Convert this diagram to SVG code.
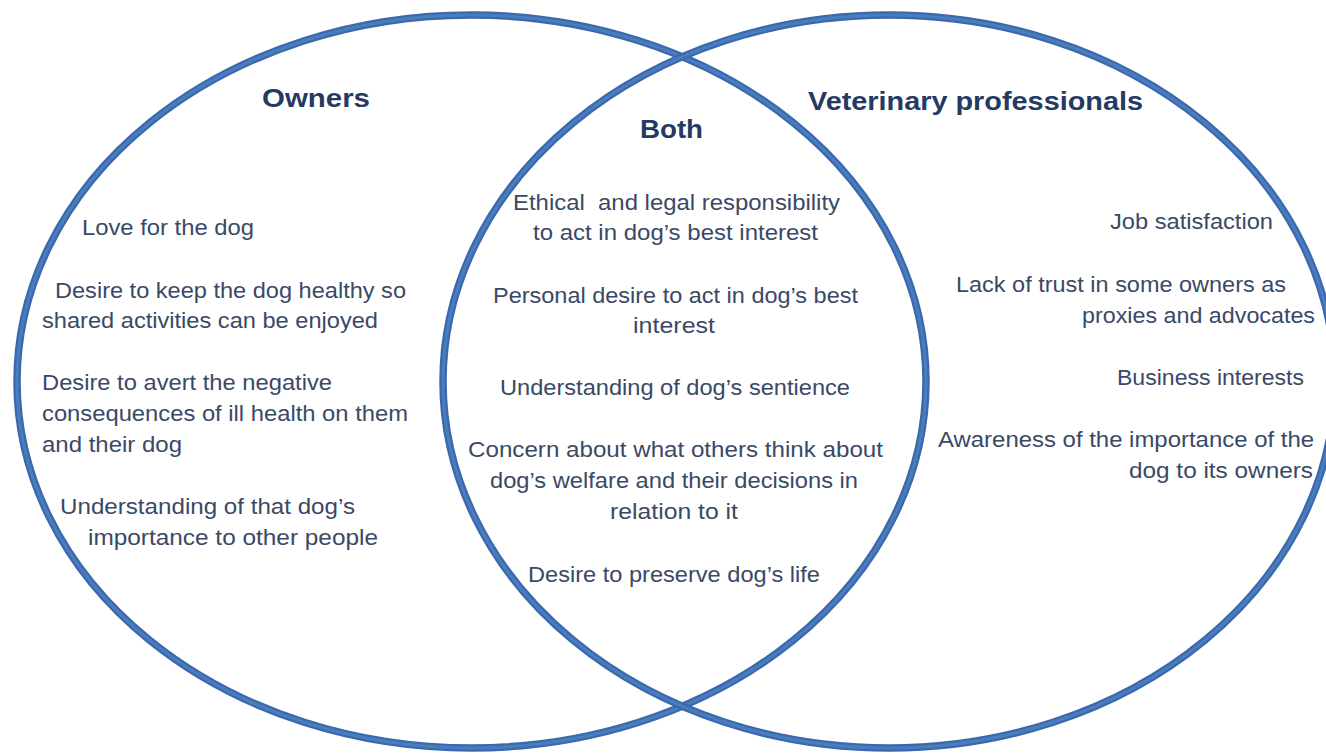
<svg xmlns="http://www.w3.org/2000/svg" width="1326" height="753" viewBox="0 0 1326 753">
<style>
.ring{fill:none;stroke:#3b69ab;stroke-width:7.5}
.ringhi{fill:none;stroke:#4a7cc0;stroke-width:3}
.hd{font-family:"Liberation Sans",Arial,sans-serif;font-weight:bold;font-size:25px;fill:#243a63}
.tx{font-family:"Liberation Sans",Arial,sans-serif;font-size:22px;fill:#3a4966}
.c{text-anchor:middle}
.e{text-anchor:end}
</style>
<rect width="1326" height="753" fill="#ffffff"/>
<g id="owners">
<ellipse class="ring" cx="471.5" cy="381.5" rx="454.5" ry="366.5"/>
<ellipse class="ringhi" cx="471.5" cy="381.5" rx="454.5" ry="366.5"/>
<text class="hd" x="262" y="107" textLength="108" lengthAdjust="spacingAndGlyphs">Owners</text>
<text class="tx" x="82" y="235" textLength="172" lengthAdjust="spacingAndGlyphs">Love for the dog</text>
<text class="tx" x="55" y="298" textLength="351" lengthAdjust="spacingAndGlyphs">Desire to keep the dog healthy so</text>
<text class="tx" x="42" y="328" textLength="336" lengthAdjust="spacingAndGlyphs">shared activities can be enjoyed</text>
<text class="tx" x="42" y="390" textLength="290" lengthAdjust="spacingAndGlyphs">Desire to avert the negative</text>
<text class="tx" x="42" y="421" textLength="366" lengthAdjust="spacingAndGlyphs">consequences of ill health on them</text>
<text class="tx" x="42" y="452" textLength="140" lengthAdjust="spacingAndGlyphs">and their dog</text>
<text class="tx" x="60" y="514" textLength="295" lengthAdjust="spacingAndGlyphs">Understanding of that dog’s</text>
<text class="tx" x="88" y="545" textLength="290" lengthAdjust="spacingAndGlyphs">importance to other people</text>
</g>
<g id="vets">
<ellipse class="ring" cx="889" cy="381.5" rx="446" ry="366.5"/>
<ellipse class="ringhi" cx="889" cy="381.5" rx="446" ry="366.5"/>
<text class="hd" x="808" y="110" textLength="335" lengthAdjust="spacingAndGlyphs">Veterinary professionals</text>
<text class="tx" x="1110" y="229" textLength="163" lengthAdjust="spacingAndGlyphs">Job satisfaction</text>
<text class="tx" x="956" y="292" textLength="330" lengthAdjust="spacingAndGlyphs">Lack of trust in some owners as</text>
<text class="tx" x="1082" y="323" textLength="233" lengthAdjust="spacingAndGlyphs">proxies and advocates</text>
<text class="tx" x="1117" y="385" textLength="187" lengthAdjust="spacingAndGlyphs">Business interests</text>
<text class="tx" x="938" y="447" textLength="376" lengthAdjust="spacingAndGlyphs">Awareness of the importance of the</text>
<text class="tx" x="1129" y="478" textLength="184" lengthAdjust="spacingAndGlyphs">dog to its owners</text>
</g>
<g id="both">
<text class="hd" x="640" y="138" textLength="63" lengthAdjust="spacingAndGlyphs">Both</text>
<text class="tx" x="513" y="210" textLength="327" lengthAdjust="spacingAndGlyphs" xml:space="preserve">Ethical  and legal responsibility</text>
<text class="tx" x="533" y="240" textLength="285" lengthAdjust="spacingAndGlyphs">to act in dog’s best interest</text>
<text class="tx" x="493" y="303" textLength="365" lengthAdjust="spacingAndGlyphs">Personal desire to act in dog’s best</text>
<text class="tx" x="633" y="333" textLength="82" lengthAdjust="spacingAndGlyphs">interest</text>
<text class="tx" x="500" y="395" textLength="350" lengthAdjust="spacingAndGlyphs">Understanding of dog’s sentience</text>
<text class="tx" x="468" y="457" textLength="415" lengthAdjust="spacingAndGlyphs">Concern about what others think about</text>
<text class="tx" x="490" y="488" textLength="368" lengthAdjust="spacingAndGlyphs">dog’s welfare and their decisions in</text>
<text class="tx" x="610" y="519" textLength="128" lengthAdjust="spacingAndGlyphs">relation to it</text>
<text class="tx" x="528" y="582" textLength="292" lengthAdjust="spacingAndGlyphs">Desire to preserve dog’s life</text>
</g>
<g id="connectors"></g>
</svg>
